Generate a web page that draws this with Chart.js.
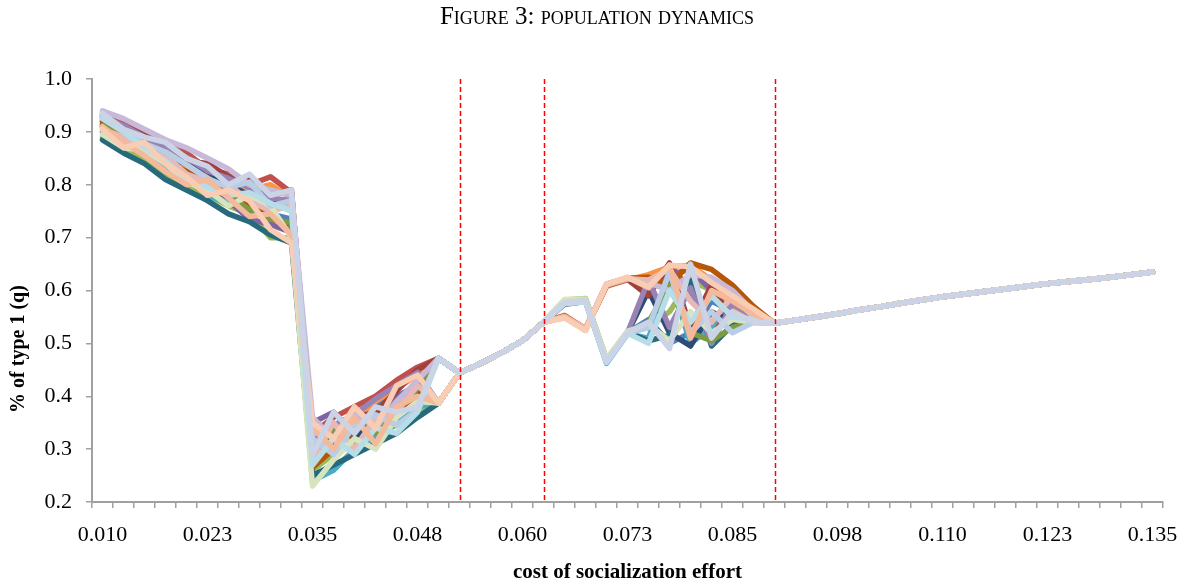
<!DOCTYPE html>
<html lang="en">
<head>
<meta charset="utf-8">
<title>Population dynamics</title>
<script src="https://cdn.jsdelivr.net/npm/chart.js@4.4.1/dist/chart.umd.min.js"></script>
<style>
  html, body { margin: 0; padding: 0; background: #fff; }
  #wrap { position: relative; width: 1194px; height: 585px; }
  #title {
    position: absolute; top: 1px; left: 0; width: 100%;
    text-align: center; color: #000;
    font-family: "Palatino Linotype", "Book Antiqua", Palatino, "Liberation Serif", serif;
    font-variant: small-caps; font-size: 25px; line-height: 30px;
  }
</style>
</head>
<body>
<div id="wrap">
  <div id="title">Figure 3: population dynamics</div>
  <canvas id="chart" width="1194" height="585"></canvas>
</div>
<script>
// cost of socialization effort (x categories)
var costs = [
  0.0100, 0.0125, 0.0150, 0.0175, 0.0200, 0.0225, 0.0250, 0.0275, 0.0300, 0.0325,
  0.0350, 0.0375, 0.0400, 0.0425, 0.0450, 0.0475, 0.0500, 0.0525, 0.0550, 0.0575,
  0.0600, 0.0625, 0.0650, 0.0675, 0.0700, 0.0725, 0.0750, 0.0775, 0.0800, 0.0825,
  0.0850, 0.0875, 0.0900, 0.0925, 0.0950, 0.0975, 0.1000, 0.1025, 0.1050, 0.1075,
  0.1100, 0.1125, 0.1150, 0.1175, 0.1200, 0.1225, 0.1250, 0.1275, 0.1300, 0.1325,
  0.1350
];
var xTickLabels = ['0.010', '0.023', '0.035', '0.048', '0.060', '0.073', '0.085', '0.098', '0.110', '0.123', '0.135'];
var yTitle = '% of type 1 (q)';
// red dashed markers
var thresholds = [0.0525, 0.0625, 0.0900];

// part where every run is the same: 0.0525 .. 0.0600 and 0.0900 .. 0.1350
var bridge = [0.444, 0.462, 0.482, 0.505, 0.540];
var tail = [0.538, 0.544, 0.550, 0.556, 0.563, 0.569, 0.576, 0.582, 0.588, 0.593,
            0.598, 0.603, 0.608, 0.613, 0.617, 0.621, 0.625, 0.630, 0.635];

// each run: 0.0100 .. 0.0500 (17 values)
var runHeads = [
  [0.935, 0.915, 0.885, 0.865, 0.835, 0.815, 0.790, 0.770, 0.745, 0.735, 0.300, 0.330, 0.350, 0.385, 0.400, 0.420, 0.472],
  [0.925, 0.920, 0.900, 0.880, 0.860, 0.830, 0.820, 0.800, 0.815, 0.785, 0.330, 0.360, 0.380, 0.400, 0.430, 0.455, 0.472],
  [0.890, 0.870, 0.850, 0.820, 0.800, 0.780, 0.760, 0.745, 0.700, 0.700, 0.260, 0.290, 0.310, 0.330, 0.345, 0.370, 0.387],
  [0.910, 0.885, 0.870, 0.830, 0.815, 0.790, 0.770, 0.735, 0.725, 0.710, 0.350, 0.370, 0.330, 0.360, 0.400, 0.410, 0.472],
  [0.900, 0.880, 0.860, 0.835, 0.825, 0.780, 0.765, 0.760, 0.740, 0.720, 0.240, 0.260, 0.300, 0.320, 0.350, 0.380, 0.387],
  [0.920, 0.905, 0.875, 0.860, 0.830, 0.820, 0.810, 0.790, 0.800, 0.775, 0.320, 0.300, 0.345, 0.390, 0.415, 0.440, 0.472],
  [0.915, 0.900, 0.880, 0.850, 0.840, 0.825, 0.800, 0.780, 0.770, 0.760, 0.310, 0.340, 0.320, 0.350, 0.380, 0.400, 0.387],
  [0.930, 0.910, 0.895, 0.875, 0.845, 0.840, 0.815, 0.810, 0.780, 0.790, 0.290, 0.310, 0.360, 0.370, 0.410, 0.450, 0.472],
  [0.885, 0.860, 0.840, 0.810, 0.790, 0.770, 0.745, 0.730, 0.705, 0.690, 0.250, 0.270, 0.290, 0.310, 0.330, 0.360, 0.387],
  [0.920, 0.895, 0.875, 0.845, 0.825, 0.800, 0.785, 0.765, 0.735, 0.725, 0.265, 0.300, 0.335, 0.355, 0.365, 0.395, 0.472],
  [0.928, 0.912, 0.890, 0.870, 0.852, 0.826, 0.812, 0.795, 0.775, 0.770, 0.315, 0.345, 0.365, 0.395, 0.420, 0.445, 0.387],
  [0.912, 0.888, 0.868, 0.842, 0.818, 0.798, 0.782, 0.752, 0.735, 0.728, 0.300, 0.335, 0.355, 0.330, 0.375, 0.415, 0.472],
  [0.940, 0.925, 0.905, 0.885, 0.870, 0.850, 0.830, 0.800, 0.790, 0.780, 0.360, 0.320, 0.370, 0.340, 0.390, 0.430, 0.472],
  [0.905, 0.890, 0.860, 0.855, 0.820, 0.805, 0.800, 0.770, 0.750, 0.760, 0.280, 0.350, 0.300, 0.360, 0.370, 0.420, 0.387],
  [0.895, 0.870, 0.865, 0.840, 0.805, 0.790, 0.760, 0.780, 0.760, 0.700, 0.230, 0.280, 0.320, 0.300, 0.360, 0.390, 0.387],
  [0.930, 0.902, 0.878, 0.862, 0.838, 0.812, 0.795, 0.805, 0.760, 0.770, 0.320, 0.290, 0.345, 0.365, 0.345, 0.375, 0.472],
  [0.925, 0.900, 0.870, 0.845, 0.810, 0.795, 0.780, 0.785, 0.765, 0.750, 0.270, 0.320, 0.290, 0.340, 0.330, 0.370, 0.472],
  [0.910, 0.880, 0.855, 0.825, 0.800, 0.810, 0.775, 0.740, 0.745, 0.705, 0.340, 0.300, 0.360, 0.310, 0.380, 0.400, 0.387],
  [0.905, 0.870, 0.880, 0.840, 0.815, 0.780, 0.790, 0.770, 0.715, 0.690, 0.350, 0.320, 0.380, 0.340, 0.420, 0.440, 0.387],
  [0.935, 0.905, 0.890, 0.880, 0.850, 0.835, 0.800, 0.820, 0.780, 0.790, 0.290, 0.370, 0.330, 0.380, 0.370, 0.380, 0.472]
];

// each run: 0.0650 .. 0.0875 (10 values)
var runMids = [
  [0.578, 0.582, 0.465, 0.520, 0.545, 0.500, 0.520, 0.580, 0.560, 0.545],
  [0.552, 0.528, 0.610, 0.622, 0.600, 0.650, 0.600, 0.520, 0.580, 0.560],
  [0.582, 0.585, 0.470, 0.522, 0.530, 0.560, 0.620, 0.600, 0.575, 0.550],
  [0.550, 0.526, 0.612, 0.624, 0.610, 0.630, 0.640, 0.600, 0.560, 0.545],
  [0.576, 0.580, 0.462, 0.518, 0.510, 0.625, 0.500, 0.530, 0.600, 0.560],
  [0.553, 0.527, 0.608, 0.620, 0.630, 0.645, 0.648, 0.620, 0.570, 0.550],
  [0.574, 0.579, 0.466, 0.520, 0.600, 0.520, 0.495, 0.560, 0.540, 0.545],
  [0.551, 0.525, 0.609, 0.621, 0.590, 0.652, 0.530, 0.610, 0.540, 0.545],
  [0.579, 0.581, 0.467, 0.521, 0.505, 0.515, 0.620, 0.495, 0.535, 0.545],
  [0.552, 0.527, 0.611, 0.623, 0.625, 0.610, 0.652, 0.640, 0.610, 0.570],
  [0.576, 0.580, 0.466, 0.520, 0.620, 0.530, 0.605, 0.500, 0.575, 0.550],
  [0.580, 0.583, 0.468, 0.521, 0.540, 0.610, 0.520, 0.505, 0.530, 0.540],
  [0.549, 0.527, 0.611, 0.623, 0.615, 0.600, 0.630, 0.625, 0.600, 0.560],
  [0.551, 0.528, 0.610, 0.622, 0.620, 0.640, 0.580, 0.540, 0.590, 0.550],
  [0.583, 0.584, 0.470, 0.523, 0.535, 0.505, 0.560, 0.520, 0.545, 0.540],
  [0.577, 0.581, 0.464, 0.519, 0.530, 0.635, 0.520, 0.560, 0.520, 0.540],
  [0.575, 0.578, 0.464, 0.519, 0.500, 0.600, 0.540, 0.590, 0.550, 0.545],
  [0.550, 0.525, 0.612, 0.625, 0.605, 0.648, 0.510, 0.600, 0.580, 0.555],
  [0.548, 0.524, 0.612, 0.625, 0.607, 0.648, 0.645, 0.615, 0.590, 0.565],
  [0.577, 0.580, 0.465, 0.520, 0.540, 0.490, 0.650, 0.510, 0.560, 0.540]
];

// excel-ish palette, later runs sit on top
var runColors = [
  '#4F81BD', '#C0504D', '#9BBB59', '#8064A2', '#4BACC6', '#F79646',
  '#2C4D75', '#A0413E', '#276A7C', '#B65708', '#9983B5', '#7E9A45',
  '#C7B9D9', '#E6B9B8', '#D7E4BD', '#B9CDE5', '#B7DEE8', '#F4B99A',
  '#F9CDB4', '#CBD4E6'
];

var datasets = runHeads.map(function (head, i) {
  return {
    label: 'Run ' + (i + 1),
    data: head.concat(bridge, runMids[i], tail),
    borderColor: runColors[i],
    borderWidth: 5.5,
    borderJoinStyle: 'round',
    borderCapStyle: 'round',
    pointRadius: 0,
    tension: 0,
    order: runHeads.length - i
  };
});

var serif = '"Palatino Linotype", "Book Antiqua", Palatino, "Liberation Serif", serif';

// red dashed vertical lines + rotated y title
var extras = {
  id: 'extras',
  afterDatasetsDraw: function (chart) {
    var ctx = chart.ctx, x = chart.scales.x, area = chart.chartArea;
    ctx.save();
    ctx.strokeStyle = '#FF0000';
    ctx.lineWidth = 1.5;
    ctx.setLineDash([5, 3]);
    thresholds.forEach(function (t) {
      var idx = costs.findIndex(function (c) { return Math.abs(c - t) < 1e-9; });
      var px = Math.round(x.getPixelForValue(idx)) + 0.5;
      ctx.beginPath();
      ctx.moveTo(px, area.top);
      ctx.lineTo(px, area.bottom - 2);
      ctx.stroke();
    });
    ctx.restore();
  },
  afterDraw: function (chart) {
    var ctx = chart.ctx;
    ctx.save();
    ctx.translate(19, 349);
    ctx.rotate(-Math.PI / 2);
    ctx.font = 'bold 20px ' + serif;
    ctx.fillStyle = '#000';
    ctx.textAlign = 'center';
    ctx.textBaseline = 'middle';
    ctx.fillText(yTitle, 0, 0);
    ctx.restore();
  }
};

new Chart(document.getElementById('chart'), {
  type: 'line',
  data: { labels: costs, datasets: datasets },
  options: {
    responsive: false,
    animation: false,
    layout: { padding: { top: 79, right: 31, bottom: 0, left: 0 } },
    plugins: { legend: { display: false }, tooltip: { enabled: false } },
    scales: {
      x: {
        type: 'category',
        offset: true,
        grid: { offset: true, drawOnChartArea: false, drawTicks: true, tickLength: 6, color: '#A0A0A0', lineWidth: 1.5 },
        border: { color: '#A0A0A0', width: 2 },
        ticks: {
          autoSkip: false, maxRotation: 0, padding: 14, color: '#000',
          font: { family: serif, size: 22 },
          callback: function (value, index) { return index % 5 === 0 ? xTickLabels[index / 5] : ''; }
        },
        title: {
          display: true, text: 'cost of socialization effort', color: '#000',
          font: { family: serif, size: 21, weight: 'bold' }, padding: { top: 0, bottom: 0 }
        },
        afterFit: function (s) { s.height = 83; }
      },
      y: {
        min: 0.2, max: 1.0,
        grid: { drawOnChartArea: false, drawTicks: true, tickLength: 6, color: '#A0A0A0', lineWidth: 1.5 },
        border: { color: '#A0A0A0', width: 2 },
        ticks: {
          stepSize: 0.1, padding: 14, color: '#000',
          font: { family: serif, size: 22 },
          callback: function (v) { return v.toFixed(1); }
        },
        afterFit: function (s) { s.width = 92; }
      }
    }
  },
  plugins: [extras]
});
</script>
</body>
</html>
